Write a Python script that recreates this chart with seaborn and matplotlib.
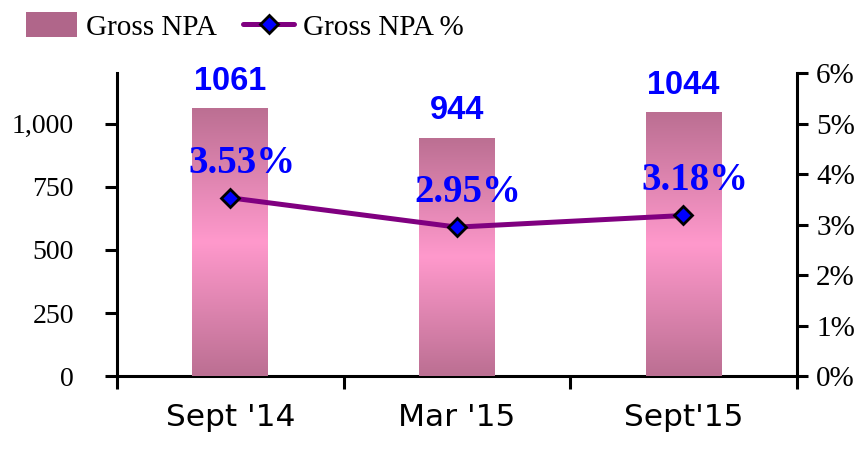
import numpy as np
import pandas as pd
import seaborn as sns
import matplotlib.pyplot as plt
from matplotlib.colors import LinearSegmentedColormap
from matplotlib.patches import Patch
from matplotlib.lines import Line2D
from matplotlib.ticker import FuncFormatter, FixedLocator

# dados
periodos = ["Sept '14", "Mar '15", "Sept'15"]
gross_npa = [1061, 944, 1044]
gross_npa_pct = [3.53, 2.95, 3.18]

tabela = pd.DataFrame({"periodo": periodos, "npa": gross_npa, "pct": gross_npa_pct})

sns.set_style("white")
plt.rcParams["font.family"] = ["Liberation Serif", "DejaVu Serif"]
plt.rcParams["text.color"] = "black"
plt.rcParams["xtick.color"] = "black"
plt.rcParams["ytick.color"] = "black"

fig = plt.figure(figsize=(8.67, 4.65), dpi=100)
ax = fig.add_axes([0.135, 0.191, 0.784, 0.652])

cor_barra = "#B0668A"
sns.barplot(data=tabela, x="periodo", y="npa", color=cor_barra, width=0.335,
            saturation=1, ax=ax, zorder=2)

# gradiente nas barras
grad = LinearSegmentedColormap.from_list("g", ["#BB6F92", "#FF99CC", "#BB6F92"])
for p in ax.patches:
    x0, y0 = p.get_x(), p.get_y()
    w, h = p.get_width(), p.get_height()
    img = ax.imshow(np.linspace(0, 1, 256).reshape(-1, 1), cmap=grad, aspect="auto",
                    extent=[x0, x0 + w, y0, y0 + h], origin="lower", zorder=3)
    img.set_clip_path(p)

ax.set_xlim(-0.5, 2.5)
ax.set_ylim(0, 1200)
ax.set_xlabel("")
ax.set_ylabel("")
ax.yaxis.set_major_locator(FixedLocator([0, 250, 500, 750, 1000]))
ax.yaxis.set_major_formatter(FuncFormatter(lambda v, pos: f"{int(v):,}"))
ax.tick_params(axis="y", labelsize=20, length=9, width=2.2, direction="out", left=True,
               pad=22, colors="black")
ax.tick_params(axis="x", which="major", length=0, labelsize=22.5, pad=19, colors="black")
ax.set_xticks([-0.5, 0.5, 1.5, 2.5], minor=True)
ax.tick_params(axis="x", which="minor", length=9, width=2.2, direction="out", bottom=True)
for lbl in ax.get_xticklabels():
    lbl.set_family(["DejaVu Sans"])

for s in ["top", "right"]:
    ax.spines[s].set_visible(False)
for s in ["left", "bottom"]:
    ax.spines[s].set_linewidth(2.2)
    ax.spines[s].set_color("black")

# rotulos das barras
for i, v in enumerate(gross_npa):
    ax.text(i, v + 72, str(v), ha="center", va="baseline", color="#0000FF",
            fontsize=23.5, fontweight="bold", family=["Liberation Sans", "DejaVu Sans"])

# eixo secundario
ax2 = ax.twinx()
sns.lineplot(data=tabela, x="periodo", y="pct", ax=ax2, sort=False, color="#800080",
             linewidth=3.6, marker="D", markersize=9, markerfacecolor="#0000FF",
             markeredgecolor="black", markeredgewidth=2, zorder=5)
ax2.set_ylim(0, 6)
ax2.set_ylabel("")
ax2.yaxis.set_major_locator(FixedLocator(range(7)))
ax2.yaxis.set_major_formatter(FuncFormatter(lambda v, pos: f"{int(v)}%"))
ax2.tick_params(axis="y", labelsize=21, length=8, width=2.2, direction="out", right=True,
                pad=6, colors="black")
for s in ["top", "left", "bottom"]:
    ax2.spines[s].set_visible(False)
ax2.spines["right"].set_linewidth(2.2)
ax2.spines["right"].set_color("black")

for i, v in enumerate(gross_npa_pct):
    ax2.text(i + 0.05, v + 0.5, f"{v:.2f}%", ha="center", va="baseline", color="#0000FF",
             fontsize=28, fontweight="bold")

# legenda
handles = [Patch(facecolor=cor_barra, edgecolor="none"),
           Line2D([], [], color="#800080", linewidth=3.6, marker="D", markersize=9,
                  markerfacecolor="#0000FF", markeredgecolor="black", markeredgewidth=2)]
fig.legend(handles, ["Gross NPA", "Gross NPA %"], loc="upper left", bbox_to_anchor=(0.0, 1.03),
           ncol=2, frameon=False, fontsize=21, handlelength=1.75, handleheight=0.95,
           columnspacing=0.9, handletextpad=0.3, labelcolor="black")

fig.savefig("out.png", dpi=100)
